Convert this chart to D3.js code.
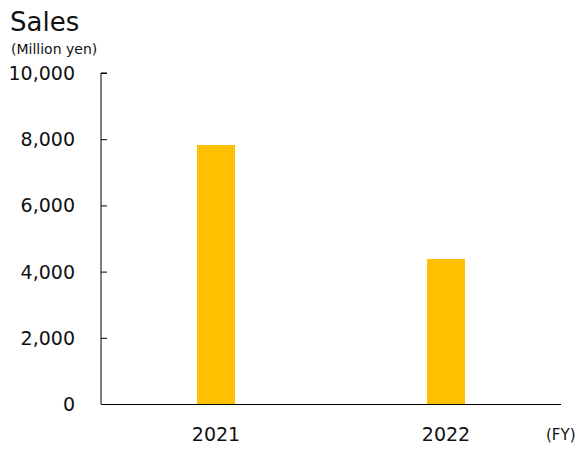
<!DOCTYPE html>
<html><head><meta charset="utf-8">
<script src="https://cdn.jsdelivr.net/npm/d3@7"></script>
<style>body{margin:0;background:#fff;font-family:"DejaVu Sans",Verdana,sans-serif;}</style>
</head><body><svg id="chart" width="585" height="470"></svg>
<script>
const years = ["2021", "2022"];
const sales = [7825, 4381];
const yTicks = [0, 2000, 4000, 6000, 8000, 10000];

const svg = d3.select("#chart");
const mLeft = 101, mRight = 561, mTop = 73, mBottom = 404;

const x = d3.scaleBand().domain(years).range([mLeft, mRight]).padding(0);
const y = d3.scaleLinear().domain([0, 10000]).range([mBottom, mTop]);
const barW = x.bandwidth() * 38 / 230;

svg.selectAll("rect.bar").data(sales).enter().append("rect")
  .attr("class", "bar")
  .attr("x", (d, i) => x(years[i]) + x.bandwidth() / 2 - barW / 2)
  .attr("y", d => y(d))
  .attr("width", barW)
  .attr("height", d => y(0) - y(d))
  .attr("fill", "#ffc000");

// y axis with inward ticks
const ya = svg.append("g").attr("transform", `translate(${mLeft},0)`)
  .call(d3.axisRight(y).tickValues(yTicks).tickSize(6).tickFormat(""));
ya.select(".domain").attr("d", `M6,${mTop}H0V${mBottom}`);
ya.selectAll("line").attr("stroke", "#000");
svg.selectAll("text.yl").data(yTicks).enter().append("text")
  .attr("x", 75).attr("y", d => y(d) + 7)
  .attr("text-anchor", "end").attr("font-size", 19).attr("fill", "#111")
  .text(d => d3.format(",")(d));

// x axis line
svg.append("line").attr("x1", mLeft).attr("x2", mRight)
  .attr("y1", mBottom + 0.5).attr("y2", mBottom + 0.5).attr("stroke", "#000");
svg.selectAll("text.xl").data(years).enter().append("text")
  .attr("x", d => x(d) + x.bandwidth() / 2).attr("y", 441)
  .attr("text-anchor", "middle").attr("font-size", 19).attr("fill", "#111")
  .text(d => d);
svg.append("text").attr("x", 546).attr("y", 440).attr("font-size", 15).attr("fill", "#111").text("(FY)");

svg.append("text").attr("x", 10).attr("y", 31).attr("font-size", 26).attr("fill", "#111").text("Sales");
svg.append("text").attr("x", 11).attr("y", 54).attr("font-size", 14).attr("fill", "#111").text("(Million yen)");
</script></body></html>
